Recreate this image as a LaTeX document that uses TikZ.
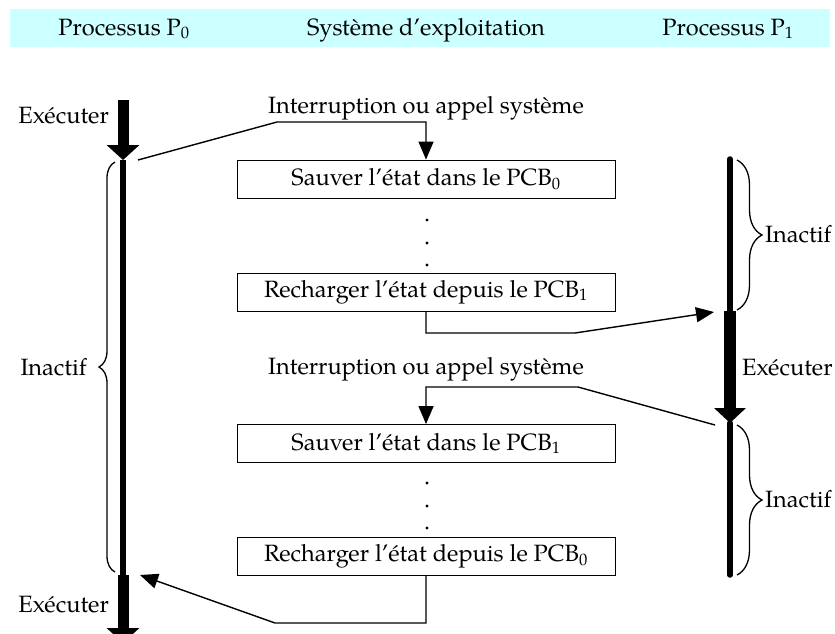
\documentclass[tikz,border=0pt]{standalone}
\usepackage{fontspec}
\setmainfont{TeX Gyre Pagella}
\usetikzlibrary{arrows.meta,decorations.pathreplacing}
\definecolor{headcol}{HTML}{CCFFFF}
\begin{document}
\begin{tikzpicture}[x=1pt,y=1pt,
  every node/.style={font=\fontsize{23.6}{28}\selectfont},
  box/.style={draw, line width=0.9pt, minimum width=378pt, minimum height=38pt, inner sep=0pt},
  lbl/.style={inner sep=0pt},
  conn/.style={line width=1.4pt},
  carrow/.style={conn, -{Triangle[length=18pt,width=15pt]}},
  thickarrow/.style={line width=11pt, -{Triangle[length=15pt,width=32pt]}},
  thinproc/.style={line width=5.5pt, line cap=round},
  bracestyle/.style={line width=1.3pt, decorate, decoration={brace, amplitude=#1}},
  dotmark/.style={fill=black}
]
\useasboundingbox (0,0) rectangle (835,-633);
% header band
\fill[headcol] (10,-9) rectangle (830,-47);
\node[lbl, anchor=base] (h0) at (124,-35) {Processus P\textsubscript{0}};
\node[lbl, anchor=base] (hs) at (426,-35) {Système d’exploitation};
\node[lbl, anchor=base] (h1) at (728,-35) {Processus P\textsubscript{1}};

% process P0 line
\draw[thickarrow] (123,-100) -- (123,-160);
\draw[line width=6pt] (123,-160) -- (123,-575);
\draw[thickarrow] (123,-575) -- (123,-643);

% process P1 line
\draw[thinproc] (730,-159) -- (730,-311);
\draw[line width=12pt, -{Triangle[length=15pt,width=31pt]}] (730,-311) -- (730,-423);
\draw[thinproc] (730,-423) -- (730,-575);

% boxes
\node[box] (b1) at (426,-179) {Sauver l’état dans le PCB\textsubscript{0}};
\node[box] (b2) at (426,-292) {Recharger l’état depuis le PCB\textsubscript{1}};
\node[box] (b3) at (426,-443.5) {Sauver l’état dans le PCB\textsubscript{1}};
\node[box] (b4) at (426,-556.5) {Recharger l’état depuis le PCB\textsubscript{0}};

% dots
\foreach \yy in {220,243,265,483,506,528}
  \fill[dotmark] (427,-\yy) circle (1.6pt);

% labels
\node[lbl, anchor=base east] (ex1) at (109,-123) {Exécuter};
\node[lbl, anchor=base east] (ex2) at (109,-612) {Exécuter};
\node[lbl, anchor=base east] (in0) at (87,-375) {Inactif};
\node[lbl, anchor=base west] (in1) at (765,-242) {Inactif};
\node[lbl, anchor=base west] (in2) at (765,-507) {Inactif};
\node[lbl, anchor=base west] (ex3) at (742,-375) {Exécuter};
\node[lbl, anchor=base] (it1) at (426,-113) {Interruption ou appel système};
\node[lbl, anchor=base] (it2) at (426,-374) {Interruption ou appel système};

% braces
\draw[bracestyle=16pt] (115,-572) -- (115,-162);
\draw[bracestyle=25pt] (737,-160) -- (737,-310);
\draw[bracestyle=25pt] (737,-425) -- (737,-575);

% connectors
\coordinate (p0out) at (138,-160);
\coordinate (p1in) at (714,-312);
\coordinate (p1out) at (715,-425);
\coordinate (p0in) at (140,-575);
\draw[carrow] (p0out) -- (277,-122) -| (b1.north);
\draw[carrow] (b2.south) |- (575,-333) -- (p1in);
\draw[carrow] (p1out) -- (578,-387) -| (b3.north);
\draw[carrow] (b4.south) |- (275,-623) -- (p0in);
\end{tikzpicture}
\end{document}
